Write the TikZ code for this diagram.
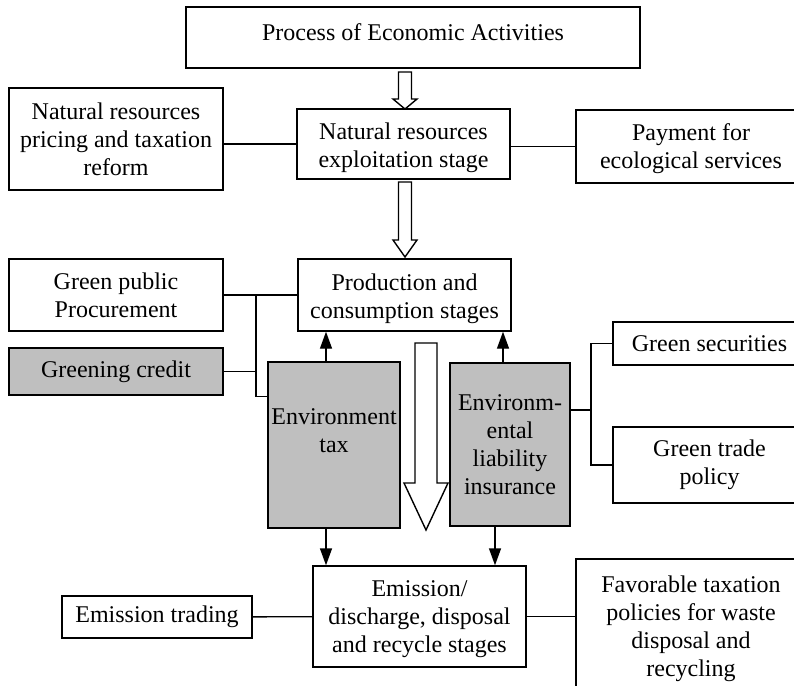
\documentclass[tikz,border=0pt]{standalone}
\usepackage{fontspec}
\setmainfont{Liberation Serif}
\usetikzlibrary{arrows.meta}

% big white arrow pointing down: x, top, tip, shaft half width, head half width, head length
\newcommand{\hollowdown}[6]{%
  \draw[line width=1.4pt, fill=white] (#1-#4,#2) -- (#1+#4,#2) -- (#1+#4,#3-#6) -- (#1+#5,#3-#6)
    -- (#1,#3) -- (#1-#5,#3-#6) -- (#1-#4,#3-#6) -- cycle;}

\tikzset{
  box/.style 2 args = {draw, line width=1.4pt, align=center, inner sep=1pt,
                       minimum width=#1pt, minimum height=#2pt},
  shaded/.style = {fill=gray!50},
  link/.style = {line width=1.4pt},
  push/.style = {line width=1.4pt, -{Triangle[length=17pt, width=12pt]}}
}

\begin{document}
\begin{tikzpicture}[x=1pt, y=-1pt, font=\fontsize{24}{28}\selectfont]
                \useasboundingbox (0,0) rectangle (794,685);
                \clip (0,0) rectangle (794,685);
                \node[box={454}{61}, text depth=10pt] (proc) at (413,37.5) {Process of Economic Activities};
                \node[box={213}{70}, text height=52pt] (natexp) at (403.5,144) {Natural resources\\exploitation stage};
                \node[box={214}{102}] (pricing) at (116,139) {Natural resources\\pricing and taxation\\reform};
                \node[box={230}{73}, text height=50pt] (payment) at (691,146.5) {Payment for\\ecological services};
                \node[box={213}{72}, text height=52pt] (prod) at (404.5,295) {Production and\\consumption stages};
                \node[box={214}{72}] (gpp) at (116,295) {Green public\\Procurement};
                \node[box={214}{47}, shaded] (credit) at (116,371.5) {Greening credit};
                \node[box={132}{166}, shaded] (envtax) at (334,445) {Environment\\tax\\~};
                \node[box={120}{163}, shaded] (insur) at (510,444.5) {Environm-\\ental\\liability\\insurance};
                \node[box={193}{43}] (gsec) at (709.5,343.5) {Green securities};
                \node[box={193}{76}] (gtrade) at (709.5,465) {Green trade\\policy};
                \node[box={213}{101}, text height=78pt] (emis) at (419.5,616.5) {Emission/\\discharge, disposal\\and recycle stages};
                \node[box={190}{42}] (etrade) at (157,617) {Emission trading};
                \node[box={230}{140}] (favor) at (691,629) {Favorable taxation\\policies for waste\\disposal and\\recycling};

                % main flow
                \hollowdown{405}{72}{109}{6.5}{12}{10}
                \hollowdown{405}{182}{257}{6.5}{12}{17}
                \hollowdown{426}{343}{530}{11}{22}{47}

                % side links
                \draw[link] (natexp.west) -- (natexp.west -| pricing.east);
                \draw[link] (payment.west) -- (payment.west -| natexp.east);
                \coordinate (gj) at (256,295);
                \draw[link] (gpp.east) -- (prod.west);
                \draw[link] (gj) |- ([yshift=-35pt]envtax.north west);
                \draw[link] (credit.east) -- (credit.east -| gj);
                \coordinate (ij) at (591,410);
                \draw[link] ([yshift=34.5pt]insur.east) -- (ij);
                \draw[link] (gsec.west) -| (ij) |- (gtrade.west);
                \draw[link] (etrade) -- (emis);
                \draw[link] (emis.east) -- (emis.east -| favor.west);

                % instruments act on the stages
                \draw[push] ([xshift=-8pt]envtax.north) -- ([xshift=-8pt]envtax.north |- prod.south);
                \draw[push] ([xshift=-8pt]envtax.south) -- ([xshift=-8pt]envtax.south |- emis.north);
                \draw[push] ([xshift=-7pt]insur.north) -- ([xshift=-7pt]insur.north |- prod.south);
                \draw[push] ([xshift=-15pt]insur.south) -- ([xshift=-15pt]insur.south |- emis.north);
                %\draw[push] (prod) -- (emis);
\end{tikzpicture}
\end{document}
